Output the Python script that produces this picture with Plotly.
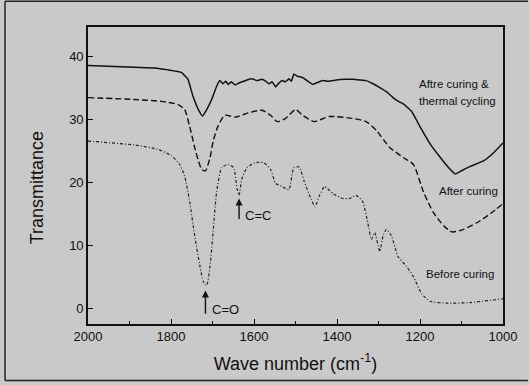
import plotly.graph_objects as go

# --- Data ---
wn_cycled = [2000, 1888, 1840, 1807, 1775, 1759, 1747, 1734, 1724, 1714, 1702, 1690, 1682,
             1675, 1668, 1662, 1655, 1645, 1637, 1629, 1617, 1605, 1593, 1581, 1572, 1564,
             1556, 1548, 1540, 1532, 1524, 1516, 1510, 1504, 1495, 1483, 1470, 1459, 1447,
             1435, 1420, 1402, 1380, 1362, 1345, 1330, 1313, 1297, 1280, 1265, 1252, 1240,
             1220, 1200, 1176, 1151, 1127, 1115, 1103, 1079, 1046, 1022, 1000]
t_cycled = [38.5, 38.2, 38.1, 37.8, 37.4, 36.3, 33.6, 31.5, 30.5, 31.5, 33.1, 35.2, 36.1,
            35.6, 36.0, 35.5, 35.9, 35.4, 35.7, 35.9, 36.2, 36.4, 36.1, 36.3, 36.0, 35.6,
            35.9, 35.1, 35.7, 36.1, 35.9, 36.4, 36.0, 37.1, 36.8, 36.6, 36.0, 35.5, 35.8,
            36.1, 36.0, 36.2, 36.3, 36.3, 36.2, 36.1, 35.6, 35.0, 34.3, 33.4, 32.8, 32.4,
            31.2, 28.8, 26.1, 23.9, 22.0, 21.3, 21.7, 22.5, 23.4, 24.7, 26.2]

wn_cured = [2000, 1888, 1823, 1783, 1767, 1755, 1743, 1734, 1726, 1717, 1706, 1698, 1686,
            1670, 1645, 1613, 1581, 1560, 1544, 1524, 1500, 1483, 1455, 1419, 1362, 1330,
            1305, 1273, 1240, 1216, 1192, 1168, 1143, 1123, 1095, 1062, 1030, 1000]
t_cured = [33.4, 33.1, 32.8, 32.3, 31.5, 28.8, 25.5, 23.4, 22.0, 21.8, 23.9, 26.6, 29.0,
           30.6, 30.3, 31.0, 31.4, 30.6, 29.6, 30.1, 31.5, 30.6, 29.6, 30.4, 30.1, 29.6,
           28.2, 25.5, 23.9, 22.8, 18.5, 15.2, 13.1, 12.1, 12.5, 13.6, 15.0, 16.6]

wn_uncured = [2000, 1888, 1832, 1799, 1779, 1767, 1755, 1743, 1730, 1722, 1714, 1706, 1698,
              1690, 1678, 1662, 1649, 1641, 1636, 1629, 1617, 1597, 1577, 1560, 1548, 1532,
              1516, 1504, 1491, 1479, 1463, 1453, 1442, 1430, 1410, 1386, 1370, 1354, 1338,
              1326, 1317, 1309, 1297, 1289, 1281, 1269, 1253, 1232, 1216, 1196, 1176, 1135,
              1079, 1000]
t_uncured = [26.5, 25.9, 25.2, 24.2, 22.8, 20.9, 16.9, 11.5, 6.6, 4.2, 3.6, 6.6, 12.5,
             18.5, 22.3, 22.8, 22.3, 19.0, 17.9, 20.6, 22.3, 23.1, 23.1, 22.0, 19.8, 19.3,
             18.8, 22.3, 22.4, 20.1, 17.4, 16.1, 17.9, 19.3, 18.2, 17.4, 17.4, 17.9, 16.9,
             13.6, 10.9, 12.0, 9.0, 11.5, 12.5, 11.5, 8.2, 6.6, 5.0, 2.3, 1.1, 0.8,
             0.9, 1.5]

series_names = ["Aftre curing & thermal cycling", "After curing", "Before curing"]
x_ticks = [2000, 1800, 1600, 1400, 1200, 1000]
y_ticks = [0, 10, 20, 30, 40]

FONT = "Liberation Sans, Arial, sans-serif"
BG = "#c9c9c9"

fig = go.Figure()
fig.add_trace(go.Scatter(x=wn_cycled, y=t_cycled, mode="lines", name=series_names[0],
                         line=dict(color="#111111", width=1.5, shape="spline", smoothing=0.3)))
fig.add_trace(go.Scatter(x=wn_cured, y=t_cured, mode="lines", name=series_names[1],
                         line=dict(color="#111111", width=1.4, dash="6px,3px", shape="spline", smoothing=0.6)))
fig.add_trace(go.Scatter(x=wn_uncured, y=t_uncured, mode="lines", name=series_names[2],
                         line=dict(color="#222222", width=1.2, dash="3px,2px,1px,2px", shape="spline", smoothing=0.5)))

fig.update_layout(
    width=529, height=385,
    margin=dict(l=88, r=23, t=27, b=61),
    paper_bgcolor=BG, plot_bgcolor=BG,
    showlegend=False,
    font=dict(family=FONT, color="#111111"),
)
fig.update_xaxes(
    range=[2000, 1000], tickvals=x_ticks, ticktext=[str(v) for v in x_ticks],
    ticks="inside", ticklen=5, tickwidth=1.3, tickcolor="#111111",
    minor=dict(dtick=100, ticks="inside", ticklen=3, tickcolor="#111111", tickwidth=1),
    showline=True, linecolor="#111111", linewidth=1.6, mirror=True,
    showgrid=False, zeroline=False,
    tickfont=dict(size=13, family=FONT, color="#111111"),
    title=dict(text="Wave number (cm<sup>-1</sup>)", font=dict(size=18, family=FONT, color="#111111"), standoff=14),
)
fig.update_yaxes(
    range=[-2.5, 44.6], tickvals=y_ticks,
    ticks="inside", ticklen=5, tickwidth=1.3, tickcolor="#111111",
    showline=True, linecolor="#111111", linewidth=1.6, mirror=True,
    showgrid=False, zeroline=False,
    tickfont=dict(size=13, family=FONT, color="#111111"),
)

# y-axis title
fig.add_annotation(text="Transmittance", xref="paper", yref="paper", x=-0.123, y=0.46,
                   xanchor="center", yanchor="middle",
                   textangle=-90, showarrow=False, font=dict(size=18, family=FONT, color="#111111"))

# curve labels
labels = [("Aftre curing &", 1208, 35.5), ("thermal cycling", 1208, 32.8),
          ("After curing", 1160, 18.65), ("Before curing", 1190, 5.4)]
for txt, xv, yv in labels:
    fig.add_annotation(text=txt, x=xv, y=yv, xanchor="left", yanchor="middle", showarrow=False,
                       font=dict(size=11.5, family=FONT, color="#111111"))

# peak markers
peaks = [("C=O", 1717, 2.8, -1.1, 1705, -0.2), ("C=C", 1636, 17.4, 13.9, 1626, 14.7)]
for txt, xv, y_head, y_tail, xt, yt in peaks:
    fig.add_annotation(x=xv, y=y_head, ax=xv, ay=y_tail, axref="x", ayref="y", text="",
                       showarrow=True, arrowhead=2, arrowsize=1, arrowwidth=1.4, arrowcolor="#111111")
    fig.add_annotation(text=txt, x=xt, y=yt, xanchor="left", yanchor="middle", showarrow=False,
                       font=dict(size=13, family=FONT, color="#111111"))

# outer scan border (top, left, bottom)
for x0, y0, x1, y1 in [(-0.2, 1.087, 1.06, 1.087), (-0.2, 1.087, -0.2, -0.19), (-0.2, -0.19, 1.06, -0.19)]:
    fig.add_shape(type="line", xref="paper", yref="paper", x0=x0, y0=y0, x1=x1, y1=y1,
                  line=dict(color="#222222", width=1.5))

fig.write_html("out.html", config={"displayModeBar": False},
               post_script="document.body.style.margin='0';document.body.style.background='%s';" % BG)
